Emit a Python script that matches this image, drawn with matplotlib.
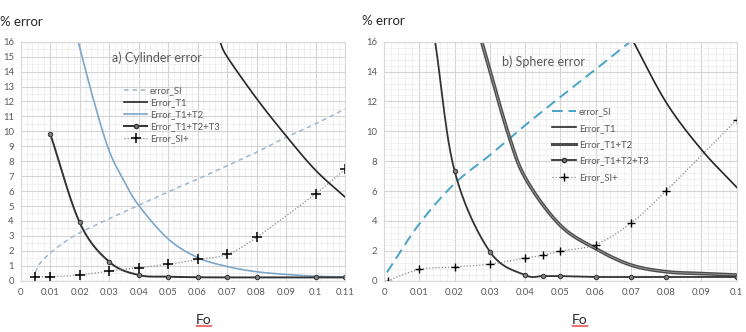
import numpy as np
import matplotlib
matplotlib.use("Agg")
import matplotlib.pyplot as plt
from matplotlib.ticker import MultipleLocator, FuncFormatter
from matplotlib.lines import Line2D

plt.rcParams['font.family'] = ['Lato', 'DejaVu Sans']

# ---------------- data: a) Cylinder ----------------
cyl_si_x = [0.005, 0.0065, 0.01, 0.015, 0.02, 0.03, 0.04, 0.05, 0.06, 0.07, 0.08, 0.09, 0.10, 0.11]
cyl_si_y = [0.55, 1.15, 1.85, 2.6, 3.2, 4.15, 5.05, 5.95, 6.8, 7.7, 8.6, 9.6, 10.5, 11.5]

cyl_t1_x = [0.0676, 0.07, 0.08, 0.09, 0.10, 0.11]
cyl_t1_y = [16.0, 15.0, 12.2, 9.7, 7.4, 5.6]

cyl_t12_x = [0.0195, 0.025, 0.03, 0.035, 0.04, 0.05, 0.06, 0.07, 0.08, 0.09, 0.10, 0.11]
cyl_t12_y = [16.0, 11.9, 8.7, 6.7, 5.05, 2.8, 1.55, 0.95, 0.6, 0.42, 0.3, 0.25]

cyl_t123_x = [0.01, 0.02, 0.03, 0.04, 0.05, 0.06, 0.07, 0.08, 0.10, 0.11]
cyl_t123_y = [9.85, 3.9, 1.27, 0.38, 0.27, 0.23, 0.22, 0.22, 0.22, 0.22]

cyl_sip_x = [0.005, 0.01, 0.02, 0.03, 0.04, 0.05, 0.06, 0.07, 0.08, 0.10, 0.11]
cyl_sip_y = [0.27, 0.27, 0.38, 0.65, 0.87, 1.09, 1.42, 1.76, 2.9, 5.82, 7.45]

# ---------------- data: b) Sphere ----------------
sph_si_x = [0.0008, 0.01, 0.02, 0.03, 0.04, 0.05, 0.06, 0.0698]
sph_si_y = [0.55, 3.8, 6.5, 8.4, 10.4, 12.3, 14.15, 16.0]

sph_t1_x = [0.0707, 0.0801, 0.0901, 0.10]
sph_t1_y = [16.0, 11.9, 8.75, 6.25]

sph_t12_x = [0.0277, 0.0355, 0.0405, 0.05, 0.06, 0.07, 0.08, 0.09, 0.10]
sph_t12_y = [16.0, 9.63, 6.7, 3.7, 2.15, 1.05, 0.6, 0.48, 0.38]

sph_t123_x = [0.0145, 0.02, 0.03, 0.04, 0.045, 0.05, 0.06, 0.07, 0.08, 0.10]
sph_t123_y = [16.0, 7.36, 1.95, 0.38, 0.31, 0.31, 0.25, 0.25, 0.25, 0.25]
sph_t123_marks = [1, 2, 3, 4, 5, 6, 7, 8, 9]

sph_sip_x = [0.001, 0.01, 0.02, 0.03, 0.04, 0.045, 0.05, 0.06, 0.07, 0.08, 0.10]
sph_sip_y = [0.0, 0.75, 0.92, 1.1, 1.52, 1.7, 1.98, 2.42, 3.86, 6.02, 10.78]

labels = ['error_SI', 'Error_T1', 'Error_T1+T2', 'Error_T1+T2+T3', 'Error_SI+']


def smooth(x, y, n=24):
    """Excel-style smoothed line (uniform Catmull-Rom through the points)."""
    P = np.column_stack([x, y]).astype(float)
    if len(P) < 3:
        return P[:, 0], P[:, 1]
    P = np.vstack([2 * P[0] - P[1], P, 2 * P[-1] - P[-2]])
    out = []
    t = np.linspace(0, 1, n, endpoint=False)[:, None]
    for i in range(len(P) - 3):
        p0, p1, p2, p3 = P[i], P[i + 1], P[i + 2], P[i + 3]
        seg = 0.5 * (2 * p1 + (-p0 + p2) * t + (2 * p0 - 5 * p1 + 4 * p2 - p3) * t ** 2
                     + (-p0 + 3 * p1 - 3 * p2 + p3) * t ** 3)
        out.append(seg)
    out.append(P[-2][None, :])
    out = np.vstack(out)
    return out[:, 0], out[:, 1]


fig = plt.figure(figsize=(7.46, 3.32), dpi=100)
W, H = 746.0, 332.0

tick_col = '#595959'


def style_axes(ax, xmax, xmaj, xmin, ymaj, ymin, xfmt):
    ax.set_xlim(0, xmax)
    ax.set_ylim(0, 16)
    ax.xaxis.set_major_locator(MultipleLocator(xmaj))
    ax.xaxis.set_minor_locator(MultipleLocator(xmin))
    ax.yaxis.set_major_locator(MultipleLocator(ymaj))
    ax.yaxis.set_minor_locator(MultipleLocator(ymin))
    ax.grid(which='major', color='#d4d4d4', lw=0.8)
    ax.grid(which='minor', color='#ececec', lw=0.5)
    ax.set_axisbelow(True)
    for s in ax.spines.values():
        s.set_color('#d9d9d9')
        s.set_linewidth(0.8)
    ax.tick_params(which='both', length=0, labelsize=6.8, colors=tick_col, pad=5)
    ax.xaxis.set_major_formatter(FuncFormatter(xfmt))
    ax.yaxis.set_major_formatter(FuncFormatter(lambda v, p: '%d' % round(v)))


def fmt(v, p):
    s = ('%.2f' % v).rstrip('0').rstrip('.')
    return s


# ---------------- a) Cylinder ----------------
ax1 = fig.add_axes([20.7 / W, 1 - 280.7 / H, (345 - 20.7) / W, (280.7 - 41.7) / H])
style_axes(ax1, 0.11, 0.01, 0.002, 1, 0.5, fmt)

x, y = smooth(cyl_si_x, cyl_si_y)
ax1.plot(x, y, color='#9fb6cc', lw=1.1, ls=(0, (3, 2.5)), label=labels[0])
x, y = smooth(cyl_t1_x, cyl_t1_y)
ax1.plot(x, y, color='#262626', lw=1.2, label=labels[1])
x, y = smooth(cyl_t12_x, cyl_t12_y)
ax1.plot(x, y, color='#7da6c8', lw=1.2, label=labels[2])
x, y = smooth(cyl_t123_x, cyl_t123_y)
ax1.plot(x, y, color='#333333', lw=1.4)
ax1.plot(cyl_t123_x, cyl_t123_y, ls='none', marker='o', ms=3.2, mfc='#7f7f7f', mec='#333333', mew=0.7)
x, y = smooth(cyl_sip_x, cyl_sip_y)
ax1.plot(x, y, color='#8c8c8c', lw=0.9, ls=(0, (1, 1.5)))
ax1.plot(cyl_sip_x, cyl_sip_y, ls='none', marker='+', ms=7, mec='black', mew=1.1)

h1 = [Line2D([], [], color='#9fb6cc', lw=1.1, ls=(0, (3, 2.5))),
      Line2D([], [], color='#262626', lw=1.2),
      Line2D([], [], color='#7da6c8', lw=1.2),
      Line2D([], [], color='#333333', lw=1.4, marker='o', ms=3, mfc='#7f7f7f', mec='#333333'),
      Line2D([], [], color='#8c8c8c', lw=0.9, ls=(0, (1, 1.5)), marker='+', ms=7, mec='black', mew=1.1)]
leg1 = ax1.legend(h1, labels, loc='upper left', bbox_to_anchor=(0.32, 0.815), frameon=False,
                  fontsize=6.8, handlelength=2.4, handletextpad=0.3, labelspacing=0.33,
                  borderaxespad=0, borderpad=0)
for t in leg1.get_texts():
    t.set_color(tick_col)
ax1.text(0.282, 0.935, 'a) Cylinder error', transform=ax1.transAxes, fontsize=9,
         color='#595959', va='center', ha='left')

# ---------------- b) Sphere ----------------
ax2 = fig.add_axes([384 / W, 1 - 280.7 / H, (736.7 - 384) / W, (280.7 - 41.7) / H])
style_axes(ax2, 0.1, 0.01, 0.002, 2, 0.4, fmt)

x, y = smooth(sph_si_x, sph_si_y)
ax2.plot(x, y, color='#4aa3c9', lw=1.4, ls=(0, (5.5, 3)))
x, y = smooth(sph_t1_x, sph_t1_y)
ax2.plot(x, y, color='#262626', lw=1.2)
x, y = smooth(sph_t12_x, sph_t12_y)
ax2.plot(x, y, color='#4d4d4d', lw=2.6)
ax2.plot(x, y, color='#9a9a9a', lw=0.6)
x, y = smooth(sph_t123_x, sph_t123_y)
ax2.plot(x, y, color='#333333', lw=1.3)
ax2.plot(np.array(sph_t123_x)[sph_t123_marks], np.array(sph_t123_y)[sph_t123_marks],
         ls='none', marker='o', ms=3.2, mfc='#7f7f7f', mec='#333333', mew=0.7)
x, y = smooth(sph_sip_x, sph_sip_y)
ax2.plot(x, y, color='#8c8c8c', lw=0.9, ls=(0, (1, 1.5)))
ax2.plot(sph_sip_x, sph_sip_y, ls='none', marker='+', ms=5.5, mec='black', mew=1.0)

h2 = [Line2D([], [], color='#4aa3c9', lw=1.4, ls=(0, (5.5, 3))),
      Line2D([], [], color='#262626', lw=1.2),
      Line2D([], [], color='#4d4d4d', lw=2.2),
      Line2D([], [], color='#333333', lw=1.3, marker='o', ms=3, mfc='#7f7f7f', mec='#333333'),
      Line2D([], [], color='#8c8c8c', lw=0.9, ls=(0, (1, 1.5)), marker='+', ms=5.5, mec='black', mew=1.0)]
leg2 = ax2.legend(h2, labels, loc='upper left', bbox_to_anchor=(0.475, 0.725), frameon=False,
                  fontsize=6.8, handlelength=2.6, handletextpad=0.3, labelspacing=0.78,
                  borderaxespad=0, borderpad=0)
for t in leg2.get_texts():
    t.set_color(tick_col)
ax2.text(0.335, 0.915, 'b) Sphere error', transform=ax2.transAxes, fontsize=9,
         color='#595959', va='center', ha='left')

# ---------------- axis titles ----------------
fig.text(0 / W, 1 - 22 / H, '% error', fontsize=9.5, color='#262626', va='center', ha='left')
fig.text(362 / W, 1 - 21 / H, '% error', fontsize=9.5, color='#262626', va='center', ha='left')
fig.text(204 / W, 1 - 320 / H, 'Fo', fontsize=10, color='#262626', va='center', ha='center')
fig.text(580 / W, 1 - 320 / H, 'Fo', fontsize=10, color='#262626', va='center', ha='center')

# red spell-check squiggles under "Fo"
for cx in (204, 580):
    xs = np.linspace(cx - 8, cx + 8, 17)
    ys = 326 + np.where(np.arange(17) % 2 == 0, -0.8, 0.8)
    fig.add_artist(Line2D(xs / W, 1 - ys / H, color='#e03030', lw=0.6, transform=fig.transFigure))

fig.savefig('out.png', dpi=100)
